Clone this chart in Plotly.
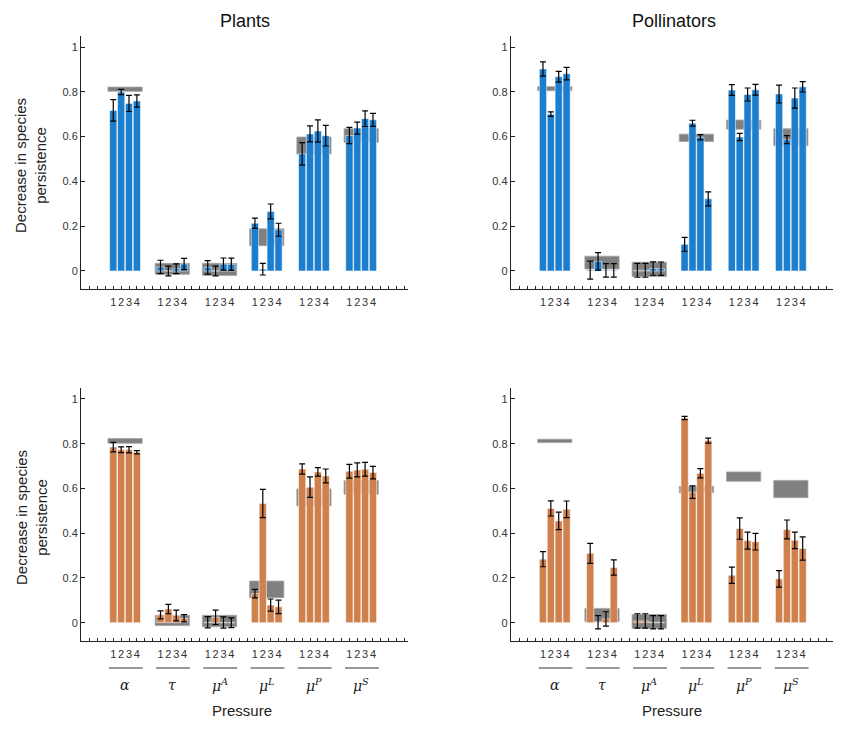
import plotly.graph_objects as go

# ---------------- data ----------------
pressures = ["α", "τ", "μ<sup>A</sup>", "μ<sup>L</sup>", "μ<sup>P</sup>", "μ<sup>S</sup>"]
levels = ["1", "2", "3", "4"]

# Plants, top (blue)
plants_top = [[0.717, 0.799, 0.748, 0.759],
              [0.018, 0.000, 0.010, 0.031],
              [0.016, 0.000, 0.031, 0.030],
              [0.213, 0.008, 0.266, 0.184],
              [0.523, 0.612, 0.625, 0.604],
              [0.605, 0.638, 0.680, 0.675]]
plants_top_err = [[0.048, 0.012, 0.036, 0.027],
                  [0.030, 0.022, 0.022, 0.025],
                  [0.030, 0.022, 0.027, 0.027],
                  [0.023, 0.026, 0.033, 0.029],
                  [0.050, 0.036, 0.050, 0.046],
                  [0.036, 0.027, 0.035, 0.029]]
plants_top_box = [[0.802, 0.821], [-0.015, 0.034], [-0.020, 0.034],
                  [0.113, 0.188], [0.522, 0.598], [0.574, 0.635]]

# Pollinators, top (blue)
poll_top = [[0.902, 0.700, 0.867, 0.881],
            [0.004, 0.043, 0.003, 0.003],
            [0.003, 0.003, 0.011, 0.010],
            [0.119, 0.660, 0.597, 0.322],
            [0.808, 0.598, 0.788, 0.809],
            [0.790, 0.586, 0.772, 0.822]]
poll_top_err = [[0.032, 0.010, 0.024, 0.028],
                [0.040, 0.039, 0.030, 0.030],
                [0.031, 0.031, 0.030, 0.030],
                [0.031, 0.013, 0.012, 0.031],
                [0.024, 0.016, 0.029, 0.024],
                [0.040, 0.018, 0.045, 0.023]]
poll_top_box = [[0.805, 0.823], [0.009, 0.066], [-0.025, 0.039],
                [0.578, 0.611], [0.633, 0.674], [0.560, 0.635]]

# Plants, bottom (orange)
plants_bot = [[0.785, 0.773, 0.773, 0.762],
              [0.035, 0.061, 0.032, 0.020],
              [0.002, 0.024, 0.001, 0.000],
              [0.130, 0.533, 0.079, 0.071],
              [0.687, 0.606, 0.674, 0.656],
              [0.677, 0.683, 0.686, 0.671]]
plants_bot_err = [[0.021, 0.013, 0.014, 0.007],
                  [0.018, 0.021, 0.024, 0.016],
                  [0.025, 0.032, 0.025, 0.022],
                  [0.019, 0.063, 0.027, 0.030],
                  [0.023, 0.046, 0.019, 0.031],
                  [0.031, 0.031, 0.031, 0.028]]
plants_bot_box = [[0.802, 0.823], [-0.013, 0.033], [-0.018, 0.033],
                  [0.112, 0.186], [0.522, 0.598], [0.574, 0.635]]

# Pollinators, bottom (orange)
poll_bot = [[0.284, 0.511, 0.455, 0.507],
            [0.310, 0.002, 0.017, 0.247],
            [0.008, 0.008, 0.002, 0.002],
            [0.915, 0.584, 0.668, 0.814],
            [0.212, 0.421, 0.367, 0.362],
            [0.196, 0.417, 0.368, 0.332]]
poll_bot_err = [[0.034, 0.034, 0.039, 0.037],
                [0.045, 0.030, 0.032, 0.034],
                [0.032, 0.032, 0.030, 0.030],
                [0.007, 0.028, 0.021, 0.011],
                [0.036, 0.048, 0.038, 0.037],
                [0.037, 0.042, 0.037, 0.052]]
poll_bot_box = [[0.805, 0.820], [0.005, 0.064], [-0.025, 0.037],
                [0.581, 0.610], [0.632, 0.674], [0.559, 0.636]]

y_ticks = [0, 0.2, 0.4, 0.6, 0.8, 1]
y_tick_text = ["0", "0.2", "0.4", "0.6", "0.8", "1"]

# ---------------- style / layout ----------------
BLUE = "rgb(28,126,205)"
ORANGE = "rgb(207,128,77)"
BOX = "rgb(128,128,128)"
W, H = 841, 734
OFF = 8  # page body margin in the browser
FONT = "Liberation Sans, Arial, sans-serif"


def pos(g, i):
    return 3 + 6 * g + i


def fx(p):
    return (p - OFF) / W


def fy(p):
    return 1 - (p - OFF) / H


panels = [
    (plants_top, plants_top_err, plants_top_box, BLUE, "x", "y"),
    (poll_top, poll_top_err, poll_top_box, BLUE, "x2", "y2"),
    (plants_bot, plants_bot_err, plants_bot_box, ORANGE, "x3", "y3"),
    (poll_bot, poll_bot_err, poll_bot_box, ORANGE, "x4", "y4"),
]

fig = go.Figure()
for vals, errs, boxes, col, xa, ya in panels:
    # grey reference boxes
    fig.add_trace(go.Bar(
        x=[pos(g, 1.5) for g in range(len(boxes))],
        y=[b[1] - b[0] for b in boxes],
        base=[b[0] for b in boxes],
        width=4.35, opacity=1,
        marker=dict(color=BOX, line=dict(color="rgb(165,165,165)", width=0.8)),
        xaxis=xa, yaxis=ya, showlegend=False, hoverinfo="skip"))
    xs, ys, es = [], [], []
    for g in range(len(vals)):
        for i in range(4):
            xs.append(pos(g, i))
            ys.append(vals[g][i])
            es.append(errs[g][i])
    fig.add_trace(go.Bar(
        x=xs, y=ys, width=0.92, opacity=1,
        marker=dict(color=col, line=dict(color="rgba(255,255,255,0.55)", width=1)),
        error_y=dict(type="data", array=es, visible=True, color="black",
                     thickness=1.2, width=3),
        xaxis=xa, yaxis=ya, showlegend=False))

tick_vals = list(range(0, 41))
tick_text = []
for k in tick_vals:
    lbl = ""
    for g in range(6):
        for i in range(4):
            if pos(g, i) == k:
                lbl = levels[i]
    tick_text.append(lbl)

xdoms = [[fx(81), fx(408)], [fx(510.7), fx(837.7)]]
ydoms = [[fy(288.9), fy(35.8)], [fy(640.6), fy(387.8)]]

axis_common_x = dict(range=[-1.1, 40.45], showline=True, linecolor="#222", linewidth=1,
                     ticks="inside", ticklen=3, tickcolor="#222", tickwidth=1,
                     tickvals=tick_vals, ticktext=tick_text, showgrid=False,
                     zeroline=False, tickangle=0, automargin=False,
                     ticklabelstandoff=3,
                     tickfont=dict(size=11, color="#333", family=FONT),
                     fixedrange=True)
axis_common_y = dict(range=[-0.08, 1.05], showline=True, linecolor="#222", linewidth=1,
                     ticks="inside", ticklen=4, tickcolor="#222", tickwidth=1,
                     tickvals=y_ticks, ticktext=y_tick_text, showgrid=False,
                     zeroline=False, automargin=False,
                     tickfont=dict(size=11, color="#333", family=FONT),
                     fixedrange=True)

layout = dict(
    width=W, height=H, margin=dict(l=0, r=0, t=0, b=0, autoexpand=False),
    plot_bgcolor="white", paper_bgcolor="white", barmode="overlay",
    font=dict(family=FONT, color="#111"),
)
names = [("xaxis", "yaxis", "y", "x"), ("xaxis2", "yaxis2", "y2", "x2"),
         ("xaxis3", "yaxis3", "y3", "x3"), ("xaxis4", "yaxis4", "y4", "x4")]
for idx, (xn, yn, yanchor, xanchor) in enumerate(names):
    col = idx % 2
    row = idx // 2
    layout[xn] = dict(axis_common_x, domain=xdoms[col], anchor=yanchor)
    layout[yn] = dict(axis_common_y, domain=ydoms[row], anchor=xanchor)
fig.update_layout(**layout)

CENTER = dict(xanchor="center", yanchor="middle", showarrow=False)

# titles
fig.add_annotation(text="Plants", x=fx(245), y=fy(21), xref="paper", yref="paper",
                   font=dict(size=18, color="#111"), **CENTER)
fig.add_annotation(text="Pollinators", x=fx(674), y=fy(21), xref="paper", yref="paper",
                   font=dict(size=18, color="#111"), **CENTER)
for yc in (166, 518):
    fig.add_annotation(text="Decrease in species<br>persistence", x=fx(31), y=fy(yc),
                       xref="paper", yref="paper", textangle=-90,
                       font=dict(size=15, color="#222"), **CENTER)

# group labels under bottom panels
for xa in ("x3", "x4"):
    for g, name in enumerate(pressures):
        fig.add_shape(type="line", xref=xa, yref="paper",
                      x0=pos(g, 0) - 0.55, x1=pos(g, 3) + 0.75,
                      y0=fy(668), y1=fy(668),
                      line=dict(color="#333", width=1))
        fig.add_annotation(text="<i>" + name + "</i>", x=pos(g, 1.5), y=fy(685),
                           xref=xa, yref="paper",
                           font=dict(size=14, color="#222",
                                     family="DejaVu Serif, Liberation Serif, serif"),
                           **CENTER)
fig.add_annotation(text="Pressure", x=fx(242), y=fy(710), xref="paper", yref="paper",
                   font=dict(size=15, color="#222"), **CENTER)
fig.add_annotation(text="Pressure", x=fx(672), y=fy(710), xref="paper", yref="paper",
                   font=dict(size=15, color="#222"), **CENTER)

fig.write_html("out.html")
